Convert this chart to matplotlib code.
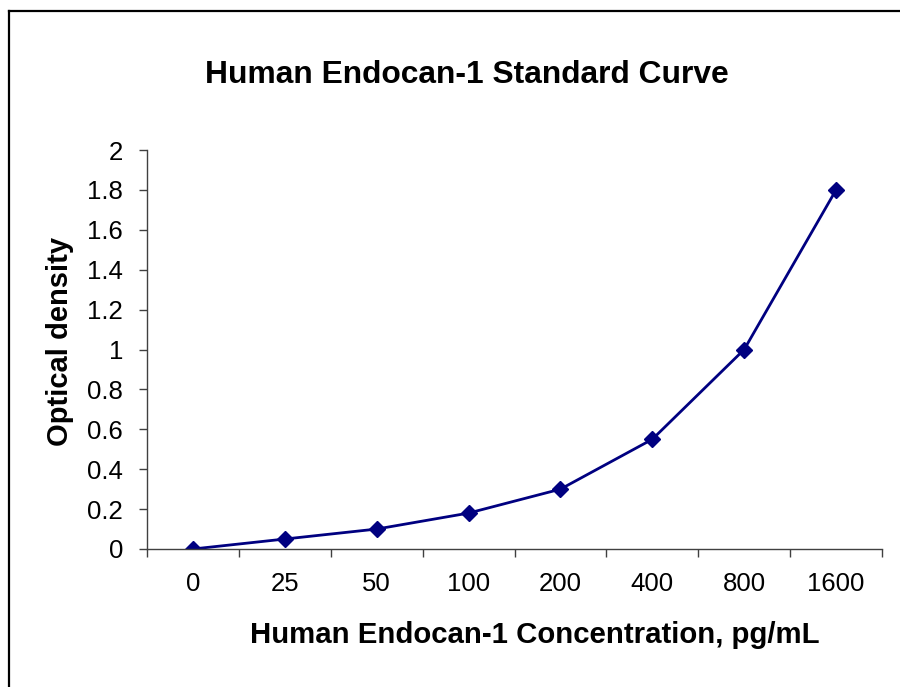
import matplotlib.pyplot as plt
from matplotlib.lines import Line2D

plt.rcParams['font.family'] = ['Liberation Sans', 'DejaVu Sans']

categories = ['0', '25', '50', '100', '200', '400', '800', '1600']
optical_density = [0.0, 0.05, 0.10, 0.18, 0.30, 0.55, 1.00, 1.80]
y_ticks = [0, 0.2, 0.4, 0.6, 0.8, 1.0, 1.2, 1.4, 1.6, 1.8, 2.0]

fig = plt.figure(figsize=(9, 6.87), dpi=100)
ax = fig.add_axes([147 / 900, 138 / 687, 735 / 900, 399 / 687])

x = list(range(len(categories)))
ax.plot(x, optical_density, color='#000080', linewidth=2.0,
        marker='D', markersize=8.5, markerfacecolor='#000080', markeredgecolor='#000080')

ax.set_xlim(-0.5, len(categories) - 0.5)
ax.set_ylim(0, 2)

# tick marks sit between categories, labels at the category centres
ax.set_xticks([i - 0.5 for i in range(len(categories) + 1)])
ax.set_xticklabels([])
ax.set_xticks(x, minor=True)
ax.set_xticklabels(categories, minor=True)
ax.tick_params(axis='x', which='major', direction='out', length=5.8, width=1, color='#404040')
ax.tick_params(axis='x', which='minor', length=0, labelsize=18.5, pad=16.5)

ax.set_yticks(y_ticks)
ax.set_yticklabels(['%g' % v for v in y_ticks])
ax.tick_params(axis='y', direction='out', length=5.8, width=1, color='#404040', labelsize=18.5, pad=11.5)

for side in ['top', 'right']:
    ax.spines[side].set_visible(False)
for side in ['left', 'bottom']:
    ax.spines[side].set_color('#404040')
    ax.spines[side].set_linewidth(1)

fig.text(467 / 900, 1 - 75 / 687, 'Human Endocan-1 Standard Curve',
         ha='center', va='center', fontsize=22.9, fontweight='bold')
fig.text(535 / 900, 1 - 635 / 687, 'Human Endocan-1 Concentration, pg/mL',
         ha='center', va='center', fontsize=21.2, fontweight='bold')
fig.text(60 / 900, 1 - 341 / 687, 'Optical density', rotation=90,
         ha='center', va='center', fontsize=21, fontweight='bold')

# outer frame (only left and top edges show inside the image)
fig.add_artist(Line2D([9 / 900, 9 / 900], [0, 1 - 11 / 687], color='black', linewidth=1.6))
fig.add_artist(Line2D([9 / 900, 1], [1 - 11 / 687, 1 - 11 / 687], color='black', linewidth=1.6))

fig.savefig('out.png', dpi=100)
